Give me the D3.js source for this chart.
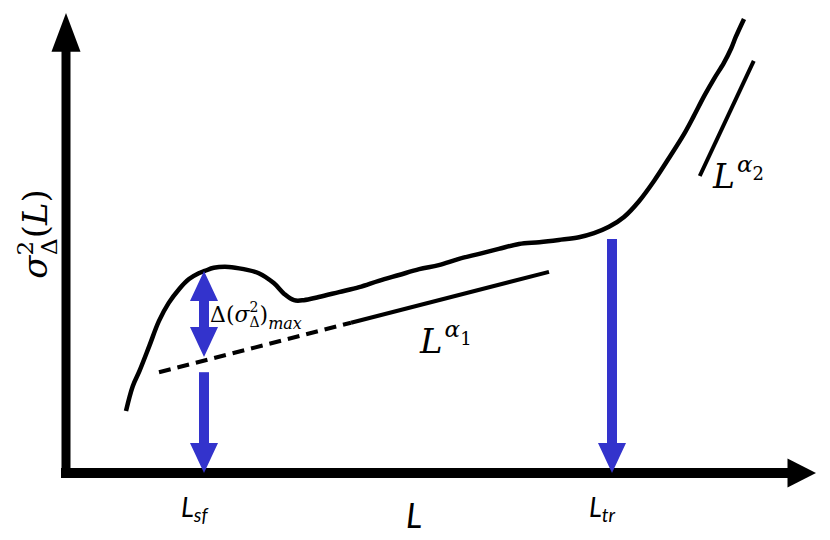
<!DOCTYPE html>
<html>
<head>
<meta charset="utf-8">
<script src="https://cdn.jsdelivr.net/npm/d3@7"></script>
<style>
    body { margin: 0; background: #fff; }
    .math { font-family: 'DejaVu Serif', 'Liberation Serif', serif; font-style: italic; }
    .sans { font-family: Lato, 'Open Sans', sans-serif; font-style: italic; }
</style>
</head>
<body>
<div id="chart"></div>
<script>
//curve of sigma^2 vs L, in schematic units (0-100 on both axes)
var curveX = [8.0, 8.9, 9.8, 11.1, 12.4, 13.7, 15.1, 16.4, 17.7, 18.5, 19.7, 21.7, 23.7, 25.7, 27.7, 29.1, 30.4, 31.7,
    33.7, 36.4, 39.1, 41.7, 44.4, 47.1, 49.7, 52.4, 55.1, 57.7, 60.4, 63.1, 65.7, 68.4, 70.4, 72.4, 74.4, 76.4,
    78.4, 80.4, 82.4, 83.7, 85.1, 86.4, 87.7, 88.7, 89.3, 90.4];
var curveY = [13.8, 19.3, 22.7, 28.2, 33.8, 37.8, 40.9, 43.1, 44.4, 44.9, 45.6, 45.8, 45.3, 44.4, 42.2, 39.8, 38.4, 38.4,
    39.1, 40.2, 41.3, 42.7, 44.0, 45.3, 46.2, 47.6, 48.7, 49.8, 50.9, 51.3, 51.8, 52.4, 53.3, 54.7, 56.9, 60.4,
    64.9, 70.0, 75.3, 79.3, 83.8, 87.6, 91.1, 94.4, 96.9, 100.9];

//power law guide lines
var fit1X = [12.4, 38.0, 64.4];   // dashed part ends at the middle point
var fit1Y = [22.4, 33.4, 44.7];
var fit2X = [84.5, 91.7];
var fit2Y = [66.0, 91.6];

//marker positions
var Lsf = 18.4;
var Ltr = 72.8;
var deltaTop = 44.9;
var deltaBottom = 25.8;
var lowerStart = 22.4;
var trStart = 52.0;

var width = 830, height = 540;
var blue = '#3333cc';

var x = d3.scaleLinear().domain([0, 100]).range([66, 816]);
var y = d3.scaleLinear().domain([0, 100]).range([473, 23]);

var svg = d3.select('#chart').append('svg')
    .attr('width', width)
    .attr('height', height);

//axes: thick black lines with triangle heads
svg.append('line')
    .attr('x1', x(0) - 5).attr('y1', y(0))
    .attr('x2', x(97)).attr('y2', y(0))
    .attr('stroke', '#000').attr('stroke-width', 10);
svg.append('path')
    .attr('d', 'M' + (x(96.2)) + ',' + (y(0) - 14.5) + 'L' + x(100) + ',' + y(0) + 'L' + x(96.2) + ',' + (y(0) + 14.5) + 'Z')
    .attr('fill', '#000');
svg.append('line')
    .attr('x1', x(0)).attr('y1', y(0) + 5)
    .attr('x2', x(0)).attr('y2', y(96))
    .attr('stroke', '#000').attr('stroke-width', 9);
svg.append('path')
    .attr('d', 'M' + (x(0) - 14.5) + ',' + y(93.6) + 'L' + x(0) + ',' + y(102.2) + 'L' + (x(0) + 14.5) + ',' + y(93.6) + 'Z')
    .attr('fill', '#000');

//main curve
var line = d3.line()
    .x(function (d) { return x(d[0]); })
    .y(function (d) { return y(d[1]); })
    .curve(d3.curveCatmullRom);

svg.append('path')
    .datum(d3.zip(curveX, curveY))
    .attr('d', line)
    .attr('fill', 'none')
    .attr('stroke', '#000')
    .attr('stroke-width', 4.5)
    .attr('stroke-linejoin', 'round');

//alpha1 guide: dashed then solid
svg.append('line')
    .attr('x1', x(fit1X[0])).attr('y1', y(fit1Y[0]))
    .attr('x2', x(fit1X[1])).attr('y2', y(fit1Y[1]))
    .attr('stroke', '#000').attr('stroke-width', 4)
    .attr('stroke-dasharray', '12,7');
svg.append('line')
    .attr('x1', x(fit1X[1])).attr('y1', y(fit1Y[1]))
    .attr('x2', x(fit1X[2])).attr('y2', y(fit1Y[2]))
    .attr('stroke', '#000').attr('stroke-width', 4);

//alpha2 guide
svg.append('line')
    .attr('x1', x(fit2X[0])).attr('y1', y(fit2Y[0]))
    .attr('x2', x(fit2X[1])).attr('y2', y(fit2Y[1]))
    .attr('stroke', '#000').attr('stroke-width', 4);

//blue arrows
function shaft(xv, y1, y2) {
    svg.append('rect')
        .attr('x', x(xv) - 5)
        .attr('y', Math.min(y1, y2))
        .attr('width', 10)
        .attr('height', Math.abs(y2 - y1))
        .attr('fill', blue);
}
function head(xv, tipY, dir) {
    //dir = 1 points down, -1 points up
    var cx = x(xv);
    svg.append('path')
        .attr('d', 'M' + (cx - 14) + ',' + (tipY - dir * 30) + 'L' + cx + ',' + tipY + 'L' + (cx + 14) + ',' + (tipY - dir * 30) + 'Z')
        .attr('fill', blue);
}

//double arrow for delta
shaft(Lsf, y(deltaTop) + 25, y(deltaBottom) - 25);
head(Lsf, y(deltaTop), -1);
head(Lsf, y(deltaBottom), 1);

//arrow down to L_sf
shaft(Lsf, y(lowerStart), y(0) - 28);
head(Lsf, y(0), 1);

//arrow down to L_tr
shaft(Ltr, y(trStart), y(0) - 28);
head(Ltr, y(0), 1);

//labels
var ylab = svg.append('text')
    .attr('class', 'math')
    .attr('transform', 'translate(47,' + 234 + ') rotate(-90)')
    .attr('text-anchor', 'middle')
    .attr('font-size', 34);
ylab.append('tspan').text('σ');
ylab.append('tspan').attr('font-size', 23).attr('dy', -14).attr('font-style', 'normal').text('2');
ylab.append('tspan').attr('font-size', 23).attr('dx', -14).attr('dy', 24).attr('font-style', 'normal').text('Δ');
ylab.append('tspan').attr('dy', -10).attr('font-style', 'normal').text('(');
ylab.append('tspan').text('L');
ylab.append('tspan').attr('font-style', 'normal').text(')');

var dlab = svg.append('text')
    .attr('class', 'math')
    .attr('x', 210).attr('y', 322)
    .attr('font-size', 22);
dlab.append('tspan').attr('font-style', 'normal').text('Δ(');
dlab.append('tspan').text('σ');
dlab.append('tspan').attr('font-size', 14).attr('dy', -10).attr('font-style', 'normal').text('2');
dlab.append('tspan').attr('font-size', 14).attr('dx', -9).attr('dy', 15).attr('font-style', 'normal').text('Δ');
dlab.append('tspan').attr('dy', -5).attr('font-style', 'normal').text(')');
dlab.append('tspan').attr('font-size', 16).attr('dy', 7).text('max');

var a1 = svg.append('text')
    .attr('class', 'math')
    .attr('x', 420).attr('y', 353)
    .attr('font-size', 34);
a1.append('tspan').text('L');
a1.append('tspan').attr('font-size', 23).attr('dx', 2).attr('dy', -16).text('α');
a1.append('tspan').attr('font-size', 18).attr('dy', 8).attr('font-style', 'normal').text('1');

var a2 = svg.append('text')
    .attr('class', 'math')
    .attr('x', 713).attr('y', 188)
    .attr('font-size', 33);
a2.append('tspan').text('L');
a2.append('tspan').attr('font-size', 23).attr('dx', 2).attr('dy', -16).text('α');
a2.append('tspan').attr('font-size', 18).attr('dy', 8).attr('font-style', 'normal').text('2');

//x labels
function sub(xv, main, s) {
    var t = svg.append('text')
        .attr('class', 'sans')
        .attr('x', x(xv) - 23).attr('y', 517)
        .attr('font-size', 27);
    t.append('tspan').text(main);
    t.append('tspan').attr('font-size', 19).attr('dy', 5).text(s);
}
sub(Lsf, 'L', 'sf');
sub(Ltr, 'L', 'tr');

svg.append('text')
    .attr('class', 'sans')
    .attr('x', 406).attr('y', 528)
    .attr('font-size', 34)
    .text('L');
</script>
</body>
</html>
